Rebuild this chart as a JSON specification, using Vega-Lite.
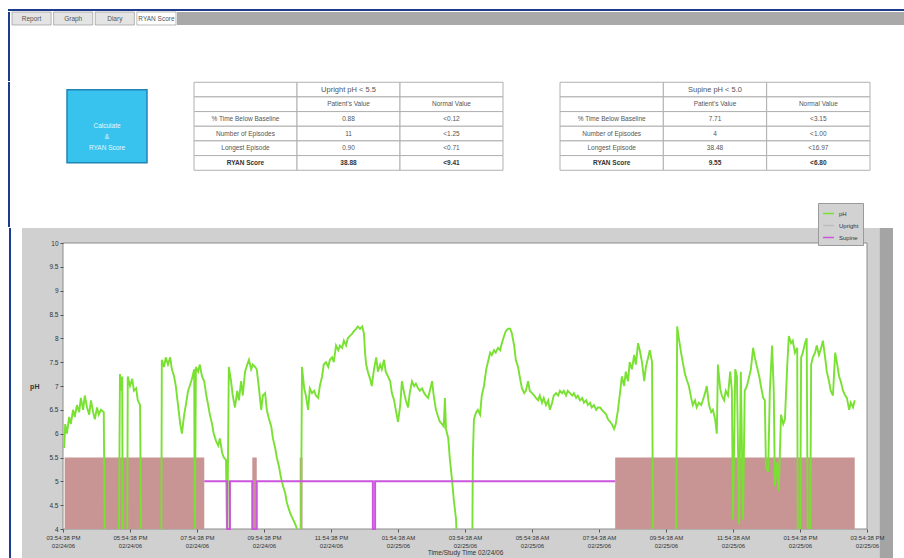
{
  "$schema": "https://vega.github.io/schema/vega-lite/v6.json",
  "background": "white",
  "padding": {"left": 8, "top": 9, "right": 0, "bottom": 0},
  "config": {
    "view": {"stroke": null},
    "font": "Liberation Sans",
    "axis": {"labelFont": "Liberation Sans", "titleFont": "Liberation Sans"},
    "legend": {"labelFont": "Liberation Sans"}
  },
  "datasets": {
    "tabs": [{"tab": "Report"}, {"tab": "Graph"}, {"tab": "Diary"}, {"tab": "RYAN Score"}],
    "one": [{"k": 1}],
    "button": [{"label": "Calculate\n&\nRYAN Score"}],
    "tables": [
      {"t": "up", "r": 0, "c": 0, "s": ""}, {"t": "up", "r": 0, "c": 1, "s": "Upright pH < 5.5"}, {"t": "up", "r": 0, "c": 2, "s": ""},
      {"t": "up", "r": 1, "c": 0, "s": ""}, {"t": "up", "r": 1, "c": 1, "s": "Patient's Value"}, {"t": "up", "r": 1, "c": 2, "s": "Normal Value"},
      {"t": "up", "r": 2, "c": 0, "s": "% Time Below Baseline"}, {"t": "up", "r": 2, "c": 1, "s": "0.88"}, {"t": "up", "r": 2, "c": 2, "s": "<0.12"},
      {"t": "up", "r": 3, "c": 0, "s": "Number of Episodes"}, {"t": "up", "r": 3, "c": 1, "s": "11"}, {"t": "up", "r": 3, "c": 2, "s": "<1.25"},
      {"t": "up", "r": 4, "c": 0, "s": "Longest Episode"}, {"t": "up", "r": 4, "c": 1, "s": "0.90"}, {"t": "up", "r": 4, "c": 2, "s": "<0.71"},
      {"t": "up", "r": 5, "c": 0, "s": "RYAN Score"}, {"t": "up", "r": 5, "c": 1, "s": "38.88"}, {"t": "up", "r": 5, "c": 2, "s": "<9.41"},
      {"t": "sup", "r": 0, "c": 0, "s": ""}, {"t": "sup", "r": 0, "c": 1, "s": "Supine pH < 5.0"}, {"t": "sup", "r": 0, "c": 2, "s": ""},
      {"t": "sup", "r": 1, "c": 0, "s": ""}, {"t": "sup", "r": 1, "c": 1, "s": "Patient's Value"}, {"t": "sup", "r": 1, "c": 2, "s": "Normal Value"},
      {"t": "sup", "r": 2, "c": 0, "s": "% Time Below Baseline"}, {"t": "sup", "r": 2, "c": 1, "s": "7.71"}, {"t": "sup", "r": 2, "c": 2, "s": "<3.15"},
      {"t": "sup", "r": 3, "c": 0, "s": "Number of Episodes"}, {"t": "sup", "r": 3, "c": 1, "s": "4"}, {"t": "sup", "r": 3, "c": 2, "s": "<1.00"},
      {"t": "sup", "r": 4, "c": 0, "s": "Longest Episode"}, {"t": "sup", "r": 4, "c": 1, "s": "38.48"}, {"t": "sup", "r": 4, "c": 2, "s": "<16.97"},
      {"t": "sup", "r": 5, "c": 0, "s": "RYAN Score"}, {"t": "sup", "r": 5, "c": 1, "s": "9.55"}, {"t": "sup", "r": 5, "c": 2, "s": "<6.80"}
    ],
    "upright": [{"m1": 3, "m2": 253}, {"m1": 339, "m2": 347}, {"m1": 424, "m2": 429}, {"m1": 989, "m2": 1418}],
    "supine": [
      {"i": 0, "m": 253, "v": 5}, {"i": 1, "m": 294, "v": 5}, {"i": 2, "m": 294, "v": 4}, {"i": 3, "m": 299, "v": 4}, {"i": 4, "m": 299, "v": 5},
      {"i": 5, "m": 339, "v": 5}, {"i": 6, "m": 339, "v": 4}, {"i": 7, "m": 347, "v": 4}, {"i": 8, "m": 347, "v": 5},
      {"i": 9, "m": 555, "v": 5}, {"i": 10, "m": 555, "v": 4}, {"i": 11, "m": 559, "v": 4}, {"i": 12, "m": 559, "v": 5}, {"i": 13, "m": 989, "v": 5}
    ],
    "ph": [
      {"m":2,"ph":5.7},{"m":4,"ph":6.2},{"m":7,"ph":6.0},{"m":11,"ph":6.35},{"m":14,"ph":6.2},{"m":18,"ph":6.5},{"m":21,"ph":6.35},{"m":25,"ph":6.6},{"m":29,"ph":6.45},{"m":32,"ph":6.75},{"m":36,"ph":6.5},{"m":39,"ph":6.8},{"m":43,"ph":6.55},{"m":47,"ph":6.4},{"m":50,"ph":6.7},{"m":54,"ph":6.45},{"m":57,"ph":6.3},{"m":61,"ph":6.55},{"m":64,"ph":6.4},{"m":68,"ph":6.5},{"m":73,"ph":6.45},{"m":75,"ph":3.5},{"m":100,"ph":3.5},{"m":102,"ph":7.25},{"m":104,"ph":6.9},{"m":106,"ph":7.2},{"m":107,"ph":3.5},{"m":115,"ph":3.5},{"m":116,"ph":7.2},{"m":120,"ph":7.0},{"m":124,"ph":7.15},{"m":127,"ph":6.9},{"m":131,"ph":6.95},{"m":134,"ph":6.7},{"m":138,"ph":6.6},{"m":140,"ph":3.5},{"m":176,"ph":3.5},{"m":177,"ph":7.55},{"m":181,"ph":7.4},{"m":184,"ph":7.6},{"m":188,"ph":7.45},{"m":192,"ph":7.6},{"m":195,"ph":7.35},{"m":199,"ph":7.2},{"m":202,"ph":7.0},{"m":206,"ph":6.6},{"m":210,"ph":6.2},{"m":213,"ph":6.0},{"m":217,"ph":6.4},{"m":220,"ph":6.6},{"m":224,"ph":6.9},{"m":227,"ph":7.0},{"m":231,"ph":7.15},{"m":235,"ph":7.35},{"m":236,"ph":3.5},{"m":238,"ph":7.4},{"m":242,"ph":7.3},{"m":245,"ph":7.45},{"m":249,"ph":7.2},{"m":253,"ph":7.1},{"m":256,"ph":6.85},{"m":260,"ph":6.6},{"m":263,"ph":6.4},{"m":267,"ph":6.2},{"m":270,"ph":6.0},{"m":274,"ph":5.85},{"m":278,"ph":5.75},{"m":281,"ph":5.9},{"m":285,"ph":5.6},{"m":288,"ph":5.5},{"m":292,"ph":5.45},{"m":294,"ph":3.5},{"m":297,"ph":7.4},{"m":301,"ph":7.1},{"m":304,"ph":6.8},{"m":308,"ph":6.55},{"m":312,"ph":6.9},{"m":315,"ph":6.7},{"m":319,"ph":7.1},{"m":322,"ph":6.8},{"m":326,"ph":7.3},{"m":330,"ph":7.45},{"m":333,"ph":7.55},{"m":337,"ph":7.35},{"m":340,"ph":7.45},{"m":344,"ph":7.4},{"m":347,"ph":7.35},{"m":351,"ph":6.95},{"m":355,"ph":6.5},{"m":358,"ph":6.8},{"m":362,"ph":6.85},{"m":365,"ph":6.5},{"m":369,"ph":6.3},{"m":373,"ph":6.15},{"m":376,"ph":5.9},{"m":380,"ph":5.7},{"m":383,"ph":5.5},{"m":387,"ph":5.3},{"m":390,"ph":5.1},{"m":394,"ph":4.9},{"m":398,"ph":4.75},{"m":401,"ph":4.55},{"m":405,"ph":4.4},{"m":408,"ph":4.3},{"m":412,"ph":4.2},{"m":416,"ph":4.1},{"m":419,"ph":4.0},{"m":421,"ph":3.5},{"m":426,"ph":3.5},{"m":428,"ph":7.4},{"m":432,"ph":6.95},{"m":435,"ph":6.8},{"m":439,"ph":6.5},{"m":442,"ph":6.95},{"m":446,"ph":6.85},{"m":450,"ph":6.9},{"m":453,"ph":6.8},{"m":457,"ph":6.75},{"m":460,"ph":7.0},{"m":464,"ph":7.2},{"m":467,"ph":7.45},{"m":471,"ph":7.5},{"m":475,"ph":7.4},{"m":478,"ph":7.55},{"m":482,"ph":7.6},{"m":485,"ph":7.5},{"m":489,"ph":7.85},{"m":493,"ph":7.75},{"m":496,"ph":7.85},{"m":500,"ph":7.8},{"m":503,"ph":7.95},{"m":507,"ph":7.85},{"m":510,"ph":8.0},{"m":514,"ph":8.05},{"m":518,"ph":8.1},{"m":521,"ph":8.15},{"m":525,"ph":8.2},{"m":528,"ph":8.25},{"m":532,"ph":8.2},{"m":536,"ph":8.25},{"m":539,"ph":8.1},{"m":541,"ph":7.7},{"m":543,"ph":7.45},{"m":546,"ph":7.3},{"m":550,"ph":7.15},{"m":553,"ph":7.0},{"m":557,"ph":7.35},{"m":561,"ph":7.6},{"m":564,"ph":7.3},{"m":568,"ph":7.45},{"m":571,"ph":7.35},{"m":575,"ph":7.55},{"m":578,"ph":7.3},{"m":582,"ph":7.2},{"m":586,"ph":7.1},{"m":589,"ph":6.85},{"m":593,"ph":6.7},{"m":596,"ph":6.5},{"m":600,"ph":6.25},{"m":604,"ph":6.6},{"m":607,"ph":7.1},{"m":611,"ph":6.85},{"m":614,"ph":6.7},{"m":618,"ph":6.55},{"m":621,"ph":6.85},{"m":625,"ph":7.1},{"m":629,"ph":7.0},{"m":632,"ph":7.05},{"m":636,"ph":6.95},{"m":639,"ph":6.9},{"m":643,"ph":6.95},{"m":647,"ph":6.85},{"m":650,"ph":6.8},{"m":654,"ph":6.75},{"m":657,"ph":6.9},{"m":661,"ph":7.1},{"m":664,"ph":6.8},{"m":668,"ph":6.5},{"m":672,"ph":6.35},{"m":675,"ph":6.25},{"m":679,"ph":6.2},{"m":682,"ph":6.15},{"m":684,"ph":6.75},{"m":686,"ph":6.1},{"m":690,"ph":5.9},{"m":693,"ph":5.45},{"m":697,"ph":5.0},{"m":700,"ph":4.6},{"m":704,"ph":4.2},{"m":706,"ph":3.5},{"m":733,"ph":3.5},{"m":734,"ph":5.5},{"m":736,"ph":6.3},{"m":740,"ph":6.45},{"m":743,"ph":6.5},{"m":747,"ph":6.4},{"m":750,"ph":6.8},{"m":754,"ph":7.0},{"m":758,"ph":7.35},{"m":761,"ph":7.5},{"m":765,"ph":7.7},{"m":768,"ph":7.65},{"m":772,"ph":7.75},{"m":775,"ph":7.7},{"m":779,"ph":7.8},{"m":783,"ph":7.75},{"m":786,"ph":7.9},{"m":790,"ph":8.05},{"m":793,"ph":8.15},{"m":797,"ph":8.2},{"m":801,"ph":8.2},{"m":804,"ph":8.1},{"m":808,"ph":7.85},{"m":811,"ph":7.55},{"m":815,"ph":7.4},{"m":818,"ph":7.2},{"m":822,"ph":6.95},{"m":826,"ph":6.85},{"m":829,"ph":6.9},{"m":833,"ph":7.1},{"m":836,"ph":6.9},{"m":840,"ph":6.85},{"m":844,"ph":6.8},{"m":847,"ph":6.75},{"m":851,"ph":6.7},{"m":854,"ph":6.8},{"m":858,"ph":6.65},{"m":861,"ph":6.75},{"m":865,"ph":6.6},{"m":869,"ph":6.7},{"m":872,"ph":6.5},{"m":876,"ph":6.65},{"m":879,"ph":6.8},{"m":883,"ph":6.85},{"m":887,"ph":6.8},{"m":890,"ph":6.9},{"m":894,"ph":6.85},{"m":897,"ph":6.9},{"m":901,"ph":6.8},{"m":904,"ph":6.9},{"m":908,"ph":6.85},{"m":912,"ph":6.8},{"m":915,"ph":6.85},{"m":919,"ph":6.75},{"m":922,"ph":6.8},{"m":926,"ph":6.7},{"m":930,"ph":6.75},{"m":933,"ph":6.65},{"m":937,"ph":6.7},{"m":940,"ph":6.6},{"m":944,"ph":6.65},{"m":947,"ph":6.55},{"m":951,"ph":6.6},{"m":955,"ph":6.5},{"m":958,"ph":6.55},{"m":962,"ph":6.55},{"m":965,"ph":6.5},{"m":969,"ph":6.45},{"m":973,"ph":6.4},{"m":976,"ph":6.3},{"m":980,"ph":6.25},{"m":983,"ph":6.2},{"m":987,"ph":6.1},{"m":990,"ph":6.2},{"m":994,"ph":6.5},{"m":998,"ph":6.9},{"m":1001,"ph":7.2},{"m":1005,"ph":7.0},{"m":1008,"ph":7.3},{"m":1012,"ph":7.1},{"m":1015,"ph":7.5},{"m":1019,"ph":7.35},{"m":1023,"ph":7.65},{"m":1026,"ph":7.45},{"m":1030,"ph":7.9},{"m":1033,"ph":7.75},{"m":1037,"ph":7.5},{"m":1041,"ph":7.1},{"m":1044,"ph":7.4},{"m":1048,"ph":7.6},{"m":1051,"ph":7.75},{"m":1055,"ph":7.5},{"m":1057,"ph":3.5},{"m":1098,"ph":3.5},{"m":1100,"ph":8.25},{"m":1103,"ph":8.0},{"m":1107,"ph":7.7},{"m":1110,"ph":7.5},{"m":1114,"ph":7.25},{"m":1118,"ph":7.1},{"m":1121,"ph":7.0},{"m":1125,"ph":6.75},{"m":1128,"ph":6.6},{"m":1132,"ph":6.7},{"m":1135,"ph":6.55},{"m":1139,"ph":6.65},{"m":1143,"ph":6.6},{"m":1146,"ph":6.7},{"m":1150,"ph":6.85},{"m":1153,"ph":7.0},{"m":1157,"ph":6.6},{"m":1161,"ph":6.45},{"m":1164,"ph":6.5},{"m":1168,"ph":6.3},{"m":1171,"ph":6.0},{"m":1173,"ph":7.45},{"m":1177,"ph":6.95},{"m":1180,"ph":6.8},{"m":1184,"ph":6.7},{"m":1187,"ph":6.9},{"m":1191,"ph":6.8},{"m":1195,"ph":7.3},{"m":1198,"ph":6.9},{"m":1200,"ph":4.2},{"m":1204,"ph":7.35},{"m":1207,"ph":7.2},{"m":1211,"ph":4.1},{"m":1214,"ph":7.3},{"m":1218,"ph":4.2},{"m":1221,"ph":6.9},{"m":1225,"ph":7.0},{"m":1229,"ph":7.2},{"m":1232,"ph":7.35},{"m":1236,"ph":7.8},{"m":1239,"ph":7.6},{"m":1243,"ph":7.4},{"m":1247,"ph":7.2},{"m":1250,"ph":7.0},{"m":1254,"ph":6.75},{"m":1257,"ph":6.7},{"m":1259,"ph":5.3},{"m":1263,"ph":5.2},{"m":1266,"ph":6.9},{"m":1270,"ph":7.85},{"m":1273,"ph":6.9},{"m":1275,"ph":4.9},{"m":1279,"ph":5.4},{"m":1282,"ph":4.8},{"m":1286,"ph":6.4},{"m":1290,"ph":6.2},{"m":1293,"ph":6.3},{"m":1297,"ph":7.4},{"m":1300,"ph":8.05},{"m":1304,"ph":7.9},{"m":1307,"ph":7.95},{"m":1311,"ph":7.7},{"m":1315,"ph":7.8},{"m":1316,"ph":3.5},{"m":1320,"ph":3.5},{"m":1322,"ph":7.6},{"m":1325,"ph":7.7},{"m":1329,"ph":7.9},{"m":1332,"ph":8.0},{"m":1334,"ph":3.5},{"m":1338,"ph":3.5},{"m":1340,"ph":7.45},{"m":1343,"ph":7.6},{"m":1347,"ph":7.7},{"m":1350,"ph":7.85},{"m":1354,"ph":7.65},{"m":1358,"ph":7.8},{"m":1361,"ph":7.95},{"m":1365,"ph":7.6},{"m":1368,"ph":7.3},{"m":1372,"ph":7.1},{"m":1375,"ph":6.9},{"m":1379,"ph":6.8},{"m":1383,"ph":7.7},{"m":1386,"ph":7.5},{"m":1390,"ph":7.2},{"m":1393,"ph":7.1},{"m":1397,"ph":6.9},{"m":1401,"ph":6.8},{"m":1404,"ph":6.75},{"m":1408,"ph":6.5},{"m":1411,"ph":6.65},{"m":1415,"ph":6.55},{"m":1418,"ph":6.7}
    ]
  },
  "spacing": 0,
  "vconcat": [
    {
      "width": 896,
      "height": 2,
      "data": {"name": "one"},
      "mark": {"type": "rect", "fill": "#1e3c8c"},
      "encoding": {}
    },
    {
      "spacing": 0,
      "hconcat": [
        {"width": 2, "height": 69, "data": {"name": "one"}, "mark": {"type": "rect", "fill": "#1e3c8c"}, "encoding": {}},
        {"width": 1, "height": 13, "data": {"values": []}, "mark": "rect", "encoding": {}},
        {
          "width": 164,
          "height": 13,
          "data": {"name": "tabs"},
          "encoding": {
            "x": {"field": "tab", "type": "nominal", "sort": null, "axis": null, "scale": {"paddingInner": 0.06, "paddingOuter": 0}}
          },
          "layer": [
            {
              "mark": {"type": "rect", "stroke": "#8c8c8c", "strokeWidth": 0.6},
              "encoding": {
                "fill": {"condition": {"test": "datum.tab === 'RYAN Score'", "value": "#ffffff"}, "value": "#e4e4e4"}
              }
            },
            {
              "mark": {"type": "text", "fontSize": 6.5, "fill": "#555555"},
              "encoding": {"text": {"field": "tab"}}
            }
          ]
        },
        {
          "width": 728,
          "height": 13,
          "data": {"name": "one"},
          "mark": {"type": "rect", "fill": "#a9a9a9"},
          "encoding": {}
        }
      ]
    },
    {
      "spacing": 0,
      "hconcat": [
        {"width": 2, "height": 145, "data": {"name": "one"}, "mark": {"type": "rect", "fill": "#1e3c8c"}, "encoding": {}},
        {
          "spacing": 0,
          "center": true,
          "hconcat": [
            {"width": 56, "height": 88, "data": {"values": []}, "mark": "rect", "encoding": {}},
            {
              "width": 80,
              "height": 73,
              "data": {"name": "button"},
              "layer": [
                {"mark": {"type": "rect", "fill": "#38c3ee", "stroke": "#2084b5", "strokeWidth": 1.5}, "encoding": {}},
                {"mark": {"type": "text", "fill": "#e6f7ff", "fontSize": 6.5, "lineBreak": "\n", "lineHeight": 11}, "encoding": {"text": {"field": "label"}}}
              ]
            },
            {"width": 45, "height": 88, "data": {"values": []}, "mark": "rect", "encoding": {}},
            {
              "width": 309,
              "height": 88,
              "data": {"name": "tables"},
              "transform": [{"filter": "datum.t === 'up'"}],
              "encoding": {
                "x": {"field": "c", "type": "ordinal", "axis": null, "scale": {"paddingInner": 0, "paddingOuter": 0}},
                "y": {"field": "r", "type": "ordinal", "axis": null, "scale": {"paddingInner": 0, "paddingOuter": 0}}
              },
              "layer": [
                {"mark": {"type": "rect", "fill": "white", "stroke": "#b0b0b0", "strokeWidth": 1}},
                {"transform": [{"filter": "datum.r === 0"}], "mark": {"type": "text", "fontSize": 7.5, "fill": "#555555"}, "encoding": {"text": {"field": "s"}}},
                {"transform": [{"filter": "datum.r > 0 && datum.r < 5"}], "mark": {"type": "text", "fontSize": 6.5, "fill": "#555555"}, "encoding": {"text": {"field": "s"}}},
                {"transform": [{"filter": "datum.r === 5"}], "mark": {"type": "text", "fontSize": 6.5, "fontWeight": "bold", "fill": "#333333"}, "encoding": {"text": {"field": "s"}}}
              ]
            },
            {"width": 55, "height": 88, "data": {"values": []}, "mark": "rect", "encoding": {}},
            {
              "width": 310,
              "height": 88,
              "data": {"name": "tables"},
              "transform": [{"filter": "datum.t === 'sup'"}],
              "encoding": {
                "x": {"field": "c", "type": "ordinal", "axis": null, "scale": {"paddingInner": 0, "paddingOuter": 0}},
                "y": {"field": "r", "type": "ordinal", "axis": null, "scale": {"paddingInner": 0, "paddingOuter": 0}}
              },
              "layer": [
                {"mark": {"type": "rect", "fill": "white", "stroke": "#b0b0b0", "strokeWidth": 1}},
                {"transform": [{"filter": "datum.r === 0"}], "mark": {"type": "text", "fontSize": 7.5, "fill": "#555555"}, "encoding": {"text": {"field": "s"}}},
                {"transform": [{"filter": "datum.r > 0 && datum.r < 5"}], "mark": {"type": "text", "fontSize": 6.5, "fill": "#555555"}, "encoding": {"text": {"field": "s"}}},
                {"transform": [{"filter": "datum.r === 5"}], "mark": {"type": "text", "fontSize": 6.5, "fontWeight": "bold", "fill": "#333333"}, "encoding": {"text": {"field": "s"}}}
              ]
            }
          ]
        }
      ]
    },
    {
      "spacing": 0,
      "hconcat": [
        {"width": 1, "height": 10, "data": {"values": []}, "mark": "rect", "encoding": {}},
        {
          "width": 804,
          "height": 286,
          "layer": [
            {
              "data": {"name": "one"},
              "mark": {"type": "rect", "fill": "#1e3c8c"},
              "encoding": {
                "x": {"datum": -96.7, "type": "quantitative", "scale": {"domain": [0, 1440], "nice": false, "zero": false}},
                "x2": {"datum": -93.1},
                "y": {"datum": 3.39, "type": "quantitative", "scale": {"domain": [4, 10], "nice": false, "zero": false}},
                "y2": {"datum": 10.315}
              }
            },
            {
              "data": {"name": "one"},
              "mark": {"type": "rect", "fill": "#d0d0d0"},
              "encoding": {
                "x": {"datum": -73.4, "type": "quantitative"},
                "x2": {"datum": 1486.5},
                "y": {"datum": 3.39, "type": "quantitative"},
                "y2": {"datum": 10.315}
              }
            },
            {
              "data": {"name": "one"},
              "mark": {"type": "rect", "fill": "#a4a4a4"},
              "encoding": {
                "x": {"datum": 1463, "type": "quantitative"},
                "x2": {"datum": 1486.5},
                "y": {"datum": 3.39, "type": "quantitative"},
                "y2": {"datum": 10.315}
              }
            },
            {
              "data": {"name": "one"},
              "mark": {"type": "rect", "fill": "white", "stroke": "#8c8c8c", "strokeWidth": 1},
              "encoding": {
                "x": {"datum": 0, "type": "quantitative"},
                "x2": {"datum": 1440},
                "y": {"datum": 4, "type": "quantitative"},
                "y2": {"datum": 10}
              }
            },
            {
              "data": {"name": "upright"},
              "mark": {"type": "rect", "fill": "#c99494"},
              "encoding": {
                "x": {"field": "m1", "type": "quantitative", "title": "Time/Study Time 02/24/06"},
                "x2": {"field": "m2"},
                "y": {"datum": 4, "type": "quantitative"},
                "y2": {"datum": 5.5}
              }
            },
            {
              "data": {"name": "ph"},
              "mark": {"type": "line", "clip": true, "strokeWidth": 1.9},
              "encoding": {
                "x": {
                  "field": "m", "type": "quantitative",
                  "scale": {"domain": [0, 1440], "nice": false, "zero": false},
                  "title": "Time/Study Time 02/24/06",
                  "axis": {
                    "values": [0, 120, 240, 360, 480, 600, 720, 840, 960, 1080, 1200, 1320, 1440],
                    "labelExpr": "[timeFormat(datetime(2006, 1, 24, 15, 54, 38 + datum.value * 60), '%I:%M:%S %p'), timeFormat(datetime(2006, 1, 24, 15, 54, 38 + datum.value * 60), '%m/%d/%y')]",
                    "titleFontSize": 6.5, "titleFontWeight": "normal", "titleColor": "#333333", "titlePadding": 1,
                    "labelFontSize": 6, "labelColor": "#333333", "labelPadding": 2, "labelLineHeight": 8, "labelOverlap": false, "labelFlush": false,
                    "tickSize": 3, "tickColor": "#555555", "domain": false, "grid": false, "zindex": 1
                  }
                },
                "y": {
                  "field": "ph", "type": "quantitative",
                  "scale": {"domain": [4, 10], "nice": false, "zero": false},
                  "title": "pH",
                  "axis": {
                    "values": [4, 4.5, 5, 5.5, 6, 6.5, 7, 7.5, 8, 8.5, 9, 9.5, 10],
                    "tickCount": 13,
                    "format": "~r",
                    "labelOverlap": false,
                    "titleAngle": 0, "titleAlign": "right", "titleBaseline": "middle", "titlePadding": 10,
                    "titleFontSize": 7, "titleFontWeight": "bold", "titleColor": "#333333",
                    "labelFontSize": 6.5, "labelColor": "#333333", "labelPadding": 2,
                    "tickSize": 3, "tickColor": "#555555", "domain": false, "grid": false, "zindex": 1
                  }
                },
                "color": {
                  "datum": "pH", "type": "nominal",
                  "scale": {"domain": ["pH", "Upright", "Supine"], "range": ["#78e132", "#bdbdbd", "#cc55dd"]},
                  "legend": {
                    "orient": "none", "legendX": 810, "legendY": 194, "title": null,
                    "fillColor": "#d2d2d2", "strokeColor": "#9a9a9a", "padding": 4,
                    "labelFontSize": 6, "labelColor": "#333333", "symbolType": "stroke", "symbolStrokeWidth": 1.5,
                    "symbolSize": 120, "rowPadding": 2, "zindex": 2
                  }
                }
              }
            },
            {
              "data": {"name": "supine"},
              "mark": {"type": "line", "strokeWidth": 2},
              "encoding": {
                "x": {"field": "m", "type": "quantitative", "title": "Time/Study Time 02/24/06"},
                "y": {
                  "field": "v", "type": "quantitative", "title": "pH",
                  "axis": {
                    "values": [4, 4.5, 5, 5.5, 6, 6.5, 7, 7.5, 8, 8.5, 9, 9.5, 10],
                    "tickCount": 13,
                    "format": "~r",
                    "labelOverlap": false,
                    "titleAngle": 0, "titleAlign": "right", "titleBaseline": "middle", "titlePadding": 10,
                    "titleFontSize": 7, "titleFontWeight": "bold", "titleColor": "#333333",
                    "labelFontSize": 6.5, "labelColor": "#333333", "labelPadding": 2,
                    "tickSize": 3, "tickColor": "#555555", "domain": false, "grid": false, "zindex": 1
                  }
                },
                "order": {"field": "i"},
                "color": {"datum": "Supine", "type": "nominal"}
              }
            }
          ]
        }
      ]
    }
  ]
}
